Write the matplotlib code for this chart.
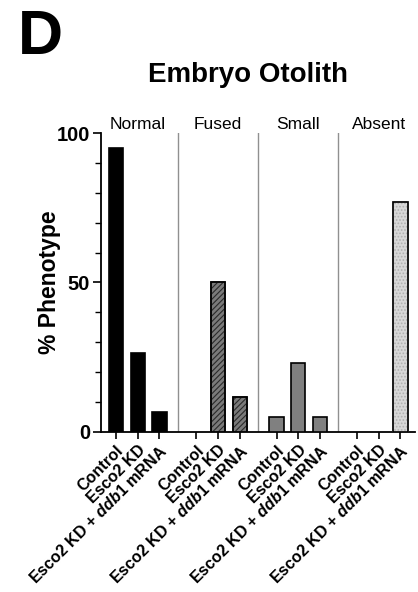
import matplotlib
matplotlib.use("Agg")
import matplotlib.pyplot as plt
import numpy as np

plt.rcParams['font.family'] = ['Liberation Sans', 'DejaVu Sans']
plt.rcParams['mathtext.fontset'] = 'custom'
plt.rcParams['mathtext.it'] = 'Liberation Sans:italic:bold'
plt.rcParams['mathtext.rm'] = 'Liberation Sans:bold'
plt.rcParams['hatch.linewidth'] = 0.8

phenotypes = ["Normal", "Fused", "Small", "Absent"]
conditions = ["Control", "Esco2 KD", "Esco2 KD + $\\it{ddb1}$ mRNA"]
values = {
    "Normal": [95, 26.5, 6.5],
    "Fused": [0, 50, 11.5],
    "Small": [4.8, 23, 4.8],
    "Absent": [0, 0, 77],
}
colors = {"Normal": "#000000", "Fused": "#7a7a7a", "Small": "#808080", "Absent": "#d8d8d8"}
hatches = {"Normal": None, "Fused": "//////", "Small": None, "Absent": "....."}
hatch_colors = {"Normal": "black", "Fused": "#2a2a2a", "Small": "black", "Absent": "#b0b0b0"}

fig = plt.figure(figsize=(4.18, 5.92), dpi=100)
ax = fig.add_axes([0.2416, 0.2708, 0.751, 0.5044])

group_step = 3.7
positions = []
labels = []
for gi, ph in enumerate(phenotypes):
    xs = gi * group_step + np.arange(3)
    vals = values[ph]
    for x, v in zip(xs, vals):
        if v > 0:
            b = ax.bar(x, v, width=0.66, color=colors[ph], edgecolor="black",
                       linewidth=1.2, hatch=hatches[ph], zorder=3)
            if hatches[ph]:
                for p in b:
                    p.set_edgecolor(hatch_colors[ph])
                    ax.bar(x, v, width=0.66, fill=False, edgecolor="black",
                           linewidth=1.2, zorder=4)
    positions.extend(xs)
    labels.extend(conditions)
    ax.text(gi * group_step + 1, 100.4, ph, ha="center", va="bottom", fontsize=12.5)
    if gi > 0:
        ax.axvline(gi * group_step - (group_step - 2) / 2, color="#909090",
                   lw=1.0, ymin=0, ymax=1, zorder=1)

ax.set_xlim(-0.69, 3 * group_step + 2 + 0.67)
ax.set_ylim(0, 100)
ax.set_xticks(positions)
ax.set_xticklabels(labels, rotation=45, ha="right", va="top",
                   rotation_mode="anchor", fontsize=11.6, fontweight="bold")
ax.set_yticks([0, 50, 100])
ax.set_yticklabels(["0", "50", "100"], fontsize=14.5, fontweight="bold")
ax.set_yticks(np.arange(0, 101, 10), minor=True)
ax.tick_params(axis="y", which="major", length=6, width=1.2, pad=2)
ax.tick_params(axis="y", which="minor", length=4, width=1.0)
ax.tick_params(axis="x", length=5, width=1.2, pad=3)
for s in ["top", "right"]:
    ax.spines[s].set_visible(False)
for s in ["left", "bottom"]:
    ax.spines[s].set_linewidth(1.3)

ax.set_ylabel("% Phenotype", fontsize=16.5, fontweight="bold", labelpad=-3)

fig.text(0.593, 0.873, "Embryo Otolith", ha="center", va="center",
         fontsize=20, fontweight="bold")
fig.text(0.042, 0.936, "D", ha="left", va="center", fontsize=45, fontweight="bold")

fig.savefig("out.png", dpi=100)
